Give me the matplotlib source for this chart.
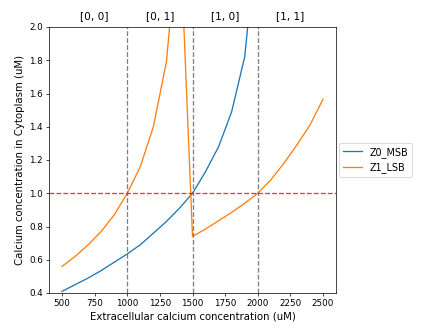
import matplotlib
matplotlib.use("Agg")
import matplotlib.pyplot as plt

x_vals = [500, 600, 700, 800, 900, 1000, 1100, 1200, 1300, 1400, 1500,
          1600, 1700, 1800, 1900, 2000, 2100, 2200, 2300, 2400, 2500]
z0_msb = [0.41, 0.45, 0.49, 0.535, 0.585, 0.635, 0.69, 0.76, 0.83, 0.91, 1.0,
          1.13, 1.28, 1.49, 1.82, 2.6, 3.6, 5.0, 7.0, 10.0, 14.0]
z1_lsb = [0.56, 0.62, 0.69, 0.77, 0.87, 1.0, 1.16, 1.40, 1.79, 2.65, 0.74,
          0.785, 0.835, 0.885, 0.94, 1.0, 1.08, 1.18, 1.29, 1.41, 1.565]
series_labels = ["Z0_MSB", "Z1_LSB"]
region_labels = ["[0, 0]", "[0, 1]", "[1, 0]", "[1, 1]"]
region_centers = [750, 1250, 1750, 2250]
boundaries = [1000, 1500, 2000]
threshold = 1.0

fig = plt.figure(figsize=(423 / 63, 329 / 63), dpi=63)
ax = fig.add_axes([49 / 423, 36 / 329, 287 / 423, 266 / 329])

ax.plot(x_vals, z0_msb, label=series_labels[0])
ax.plot(x_vals, z1_lsb, label=series_labels[1])
for b in boundaries:
    ax.axvline(b, color="grey", linestyle="--")
ax.axhline(threshold, color="red", linestyle="--", alpha=0.8)

ax.set_ylim(0.4, 2.0)
ax.set_xlim(400, 2600)
for cx, lab in zip(region_centers, region_labels):
    ax.text(cx, 2.05, lab, ha="center", fontsize=12)

ax.set_xlabel("Extracellular calcium concentration (uM)", fontsize=11.5)
ax.set_ylabel("Calcium concentration in Cytoplasm (uM)", fontsize=11.5)
ax.legend(loc="center left", bbox_to_anchor=(1.0, 0.5), borderaxespad=0.3,
          fontsize=11)

fig.savefig("out.png", dpi=63)
